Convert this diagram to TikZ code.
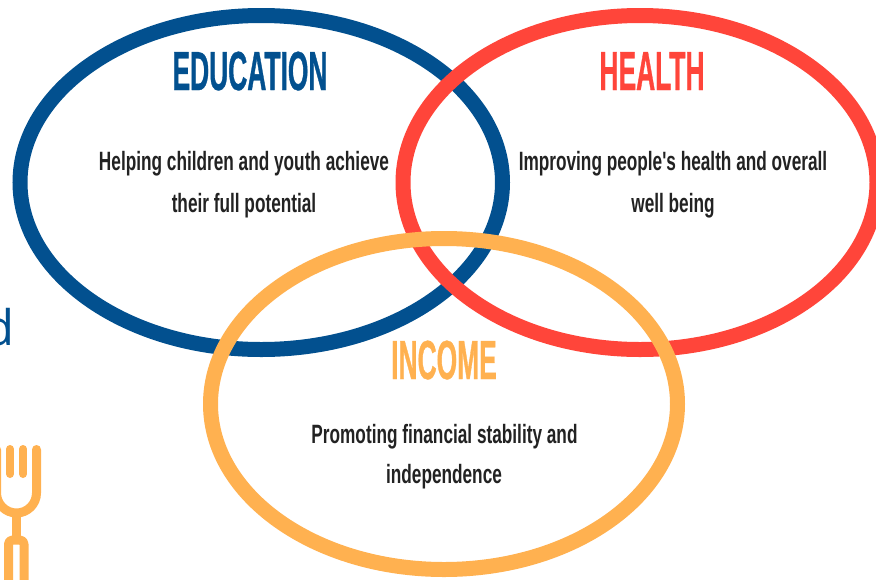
\documentclass[tikz,border=0pt]{standalone}
\usepackage{fontspec}
\newfontfamily\titlefont[FakeStretch=0.48,FakeBold=0.6]{Liberation Sans}
\newfontfamily\bodyfont[FakeStretch=0.65]{Liberation Sans}
\newfontfamily\dfont{Open Sans}
\definecolor{edublue}{HTML}{02508F}
\definecolor{healthred}{HTML}{FF453A}
\definecolor{incomeorange}{HTML}{FFB150}
\definecolor{bodygray}{HTML}{222222}
\begin{document}
\begin{tikzpicture}[x=1pt,y=-1pt]
\tikzset{
  ring/.style={line width=15pt},
  titletext/.style={anchor=base, inner sep=0pt, font=\titlefont\bfseries\fontsize{55}{55}\selectfont},
  bodytext/.style={anchor=base, inner sep=0pt, text=bodygray, font=\bodyfont\bfseries\fontsize{26.5}{30}\selectfont},
  forkline/.style={draw=incomeorange, line width=9pt, line cap=round, line join=round}
}
\useasboundingbox (0,0) rectangle (876,579);
\clip (0,0) rectangle (876,579);
\fill[white] (0,0) rectangle (876,579);

% rings
\coordinate (edu) at (261.25,182.5);
\coordinate (health) at (640,182.5);
\coordinate (income) at (444,404);
\draw[ring, edublue] (edu) ellipse [x radius=241.25pt, y radius=167pt];
\draw[ring, healthred] (health) ellipse [x radius=237pt, y radius=167pt];
\draw[ring, incomeorange] (income) ellipse [x radius=233.5pt, y radius=165.5pt];

% titles
\node[titletext, text=edublue] (edutitle) at (250,90) {EDUCATION};
\node[titletext, text=healthred] (healthtitle) at (652,90) {HEALTH};
\node[titletext, text=incomeorange] (incometitle) at (444,379) {INCOME};

% descriptions
\node[bodytext] (edul1) at (244,170) {Helping children and youth achieve};
\node[bodytext] (edul2) at (244,212) {their full potential};
\node[bodytext] (healthl1) at (673,170) {Improving people's health and overall};
\node[bodytext] (healthl2) at (673,212) {well being};
\node[bodytext] (incomel1) at (444.5,443) {Promoting financial stability and};
\node[bodytext] (incomel2) at (444,483) {independence};

% partial letter at left edge
\node[anchor=base east, inner sep=0pt, text=edublue, font=\dfont\fontsize{49}{49}\selectfont] (dletter) at (15,345) {d};

% fork icon
\draw[forkline] (-3.5,449.5) -- (-3.5,493) .. controls (-3.5,504) and (5.5,513) .. (16.5,513)
  .. controls (27.5,513) and (36.5,504) .. (36.5,493) -- (36.5,449.5);
\draw[forkline, line width=8pt] (10,449) -- (10,474);
\draw[forkline, line width=8pt] (23,449) -- (23,474);
\draw[forkline, line cap=butt] (16.5,513) -- (16.5,540);
\draw[forkline, rounded corners=4pt] (8.5,600) -- (8.5,540) -- (24,540) -- (24,600);
\end{tikzpicture}
\end{document}
